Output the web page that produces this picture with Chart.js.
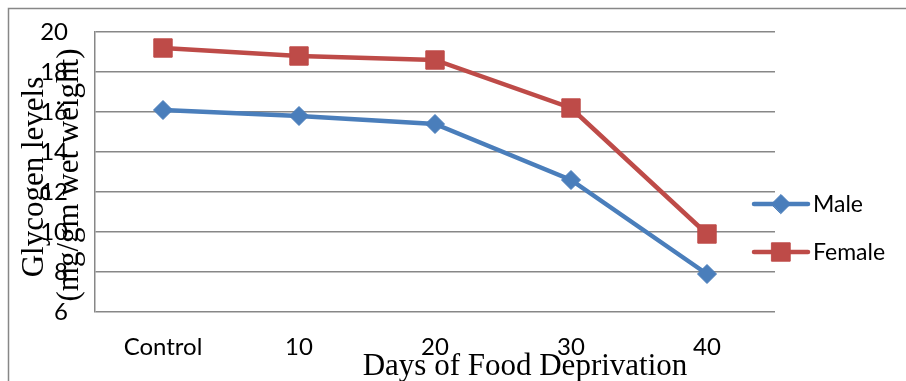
<!DOCTYPE html>
<html>
<head>
<meta charset="utf-8">
<title>Glycogen levels</title>
<script src="https://cdn.jsdelivr.net/npm/chart.js@4/dist/chart.umd.min.js"></script>
<style>
    html, body { margin: 0; padding: 0; background: #fff; }
    canvas { display: block; }
</style>
</head>
<body>
<canvas id="glycogenChart" width="906" height="381"></canvas>
<script>
"use strict";

const days = ["Control", "10", "20", "30", "40"];
const maleValues = [16.1, 15.8, 15.4, 12.6, 7.9];
const femaleValues = [19.2, 18.8, 18.6, 16.2, 9.9];
const yTicks = [6, 8, 10, 12, 14, 16, 18, 20];

const SANS = "Lato, 'Open Sans', sans-serif";
const SERIF = "'Liberation Serif', 'DejaVu Serif', serif";
const GRID = "#878787";

// frame lines, axis titles and the line+marker legend
const decorations = {
    id: "decorations",
    beforeDraw(chart) {
        const ctx = chart.ctx;
        ctx.save();
        ctx.fillStyle = "#fff";
        ctx.fillRect(0, 0, chart.width, chart.height);
        ctx.strokeStyle = GRID;
        ctx.lineWidth = 1.5;
        ctx.beginPath();
        ctx.moveTo(8.5, chart.height);
        ctx.lineTo(8.5, 8.5);
        ctx.lineTo(chart.width, 8.5);
        ctx.stroke();
        ctx.restore();
    },
    afterDraw(chart) {
        const ctx = chart.ctx;
        const area = chart.chartArea;
        ctx.save();
        ctx.fillStyle = "#000";

        // y title, two rotated lines
        ctx.font = "31px " + SERIF;
        ctx.textAlign = "center";
        ctx.textBaseline = "alphabetic";
        const titleLines = [["Glycogen levels", 43, 177], ["(mg/gm wet weight)", 78, 175]];
        titleLines.forEach(([text, x, y]) => {
            ctx.save();
            ctx.translate(x, y);
            ctx.rotate(-Math.PI / 2);
            ctx.fillText(text, 0, 0);
            ctx.restore();
        });

        // x title
        ctx.font = "31px " + SERIF;
        ctx.fillText("Days of Food Deprivation", 525, 375);

        // legend
        const legendX = area.right - 21;
        const rows = [204, 252];
        ctx.textAlign = "left";
        ctx.textBaseline = "middle";
        ctx.font = "23px " + SANS;
        chart.data.datasets.forEach((ds, i) => {
            const y = rows[i];
            ctx.strokeStyle = ds.borderColor;
            ctx.lineWidth = ds.borderWidth;
            ctx.lineCap = "round";
            ctx.beginPath();
            ctx.moveTo(legendX, y);
            ctx.lineTo(legendX + 54, y);
            ctx.stroke();
            ctx.fillStyle = ds.pointBackgroundColor;
            ctx.strokeStyle = ds.pointBorderColor;
            ctx.lineWidth = 1;
            Chart.helpers.drawPoint(ctx, {
                pointStyle: ds.pointStyle,
                radius: ds.pointRadius,
                rotation: 0,
                borderWidth: 1
            }, legendX + 27, y);
            ctx.fillStyle = "#000";
            ctx.fillText(ds.label, legendX + 59, y + 1);
        });
        ctx.restore();
    }
};

new Chart(document.getElementById("glycogenChart"), {
    type: "line",
    data: {
        labels: days,
        datasets: [
            {
                label: "Male",
                data: maleValues,
                borderColor: "#4A7EBB",
                backgroundColor: "#4A7EBB",
                pointBackgroundColor: "#4A7EBB",
                pointBorderColor: "#4A7EBB",
                borderWidth: 4.5,
                pointStyle: "rectRot",
                pointRadius: 9.5,
                pointBorderWidth: 1,
                tension: 0
            },
            {
                label: "Female",
                data: femaleValues,
                borderColor: "#BE4B48",
                backgroundColor: "#BE4B48",
                pointBackgroundColor: "#BE4B48",
                pointBorderColor: "#BE4B48",
                borderWidth: 4.5,
                pointStyle: "rect",
                pointRadius: 13,
                pointBorderWidth: 1,
                tension: 0
            }
        ]
    },
    options: {
        responsive: false,
        animation: false,
        layout: { padding: { top: 32, right: 131, bottom: 0, left: 0 } },
        plugins: {
            legend: { display: false },
            tooltip: { enabled: false }
        },
        scales: {
            x: {
                offset: true,
                grid: { display: false, drawTicks: false },
                border: { display: false },
                ticks: { color: "#000", font: { family: SANS, size: 24 }, padding: 21, maxRotation: 0 },
                afterFit(scale) { scale.height = 69; }
            },
            y: {
                min: 6,
                max: 20,
                afterBuildTicks(scale) { scale.ticks = yTicks.map((v) => ({ value: v })); },
                grid: { color: GRID, lineWidth: 1.5, drawTicks: false },
                border: { display: true, color: GRID, width: 1.5 },
                ticks: { color: "#000", font: { family: SANS, size: 24 }, padding: 27 },
                afterFit(scale) {
                    scale.width = 95;
                    // plot edges are set by the layout padding, not the label overhang
                    scale.paddingTop = 0;
                    scale.paddingBottom = 0;
                }
            }
        }
    },
    plugins: [decorations]
});
</script>
</body>
</html>
